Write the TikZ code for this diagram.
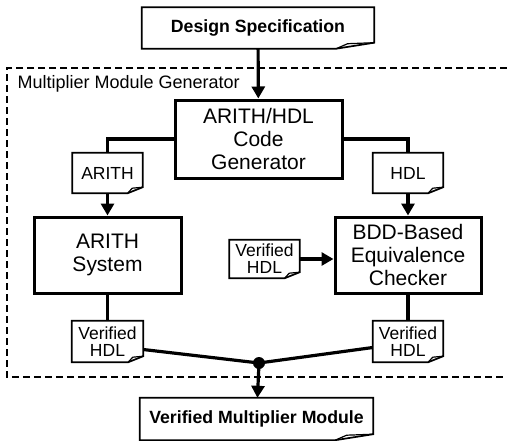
\documentclass[tikz,border=0pt]{standalone}
\usepackage{fontspec}
\setmainfont{Liberation Sans}
\usetikzlibrary{arrows.meta}
% document outline with a curled corner round a named node: #1 name, #2 fold width
\newcommand{\docframe}[2]{
    \draw[line width=1.7pt] (#1.north west) -- (#1.north east) -- ([yshift=6pt]#1.south east)
        -- ([xshift=-#2pt]#1.south east) -- (#1.south west) -- cycle;
    \draw[line width=1.2pt] ([xshift=-#2pt]#1.south east) -- ([xshift=-0.7*#2pt,yshift=5pt]#1.south east)
        -- ([yshift=6pt]#1.south east);
}

\begin{document}
\begin{tikzpicture}[x=1pt,y=-1pt,
    block/.style={draw, line width=3pt, inner sep=0pt, align=center, font=\fontsize{21}{23}\selectfont},
    doc/.style={inner sep=0pt, minimum width=70pt, minimum height=40pt, align=center, font=\fontsize{17.5}{17}\selectfont},
    bigdoc/.style={inner sep=0pt, minimum width=232pt, minimum height=41pt, font=\bfseries\fontsize{17.7}{20}\selectfont},
    conn/.style={line width=3.2pt},
    arr/.style={conn, -{Triangle[width=13pt,length=12pt]}}]
    \useasboundingbox (0,0) rectangle (507,440);
    % generator frame
    \draw[line width=1.1pt, dash pattern=on 7pt off 4pt] (507,68) -- (7,68) -- (7,377) -- (507,377);
    \node[anchor=west, font=\fontsize{18}{20}\selectfont] (frame) at (14,84) {Multiplier Module Generator};

    \node[bigdoc] (spec) at (258,28) {Design Specification};
    \docframe{spec}{38}
    \node[block, minimum width=167pt, minimum height=78pt] (gen) at (258.5,139) {ARITH/HDL\\Code\\Generator};
    \node[doc] (arithdoc) at (107.5,173) {ARITH};
    \docframe{arithdoc}{15}
    \node[doc] (hdldoc) at (408,173) {HDL};
    \docframe{hdldoc}{15}
    \node[block, minimum width=147pt, minimum height=76pt] (arith) at (107.5,255) {ARITH\\System};
    \node[block, minimum width=146pt, minimum height=76pt] (bdd) at (408,255) {BDD-Based\\Equivalence\\Checker};
    \node[doc, minimum height=38pt] (refhdl) at (264.5,259) {Verified\\HDL};
    \docframe{refhdl}{15}
    \node[doc, minimum width=71pt, minimum height=41pt] (verl) at (107.5,341.5) {Verified\\HDL};
    \docframe{verl}{15}
    \node[doc, minimum height=41pt] (verr) at (408,341.5) {Verified\\HDL};
    \docframe{verr}{15}
    \node[bigdoc, minimum width=233pt, minimum height=42pt] (result) at (256.5,419) {Verified Multiplier Module};
    \docframe{result}{38}
    \coordinate (join) at (259,363);

    \draw[arr] (spec) -- (gen);
    \draw[conn] (gen.west) -| (arithdoc.north);
    \draw[conn] (gen.east) -| (hdldoc.north);
    \draw[arr] (arithdoc) -- (arith);
    \draw[arr] (hdldoc) -- (bdd);
    \draw[arr] (refhdl.east) -- (refhdl.east -| bdd.west);
    \draw[conn] (arith) -- (verl);
    \draw[conn] (bdd) -- (verr);
    \draw[conn] ([yshift=-8pt]verl.east) -- (join) -- ([yshift=-6pt]verr.west);
    \fill (join) circle (6);
    \draw[arr] (join) -- (result);
\end{tikzpicture}
\end{document}
